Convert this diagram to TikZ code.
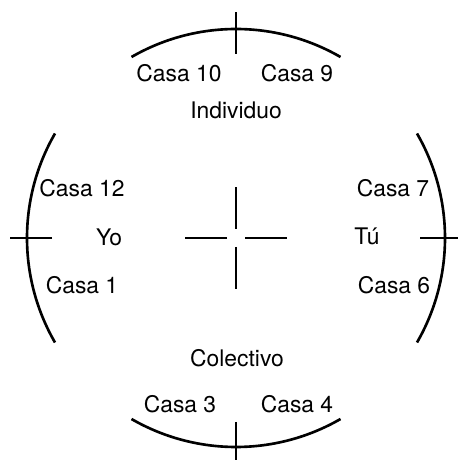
\documentclass[tikz,border=0pt]{standalone}
\usepackage{fontspec}
\setmainfont{TeX Gyre Heros}
\begin{document}
\begin{tikzpicture}[x=0.02cm, y=0.02cm, line width=1.5pt,
		lbl/.style={anchor=base, inner sep=0pt, font=\fontsize{13}{15}\selectfont}]
		\useasboundingbox (0,0) rectangle (457,460);
		\coordinate (c) at (236,222);

		% Outer arcs
		\draw ([shift={(60:209)}]c) arc[start angle=60, end angle=120, radius=209];
		\draw ([shift={(150:209)}]c) arc[start angle=150, end angle=210, radius=209];
		\draw ([shift={(240:209)}]c) arc[start angle=240, end angle=300, radius=209];
		\draw ([shift={(-30:209)}]c) arc[start angle=-30, end angle=30, radius=209];

		% Ticks on the arcs and the centre cross
		\foreach \a in {0,90,180,270} {
			\draw ([shift={(\a:184)}]c) -- ([shift={(\a:226)}]c);
			\draw ([shift={(\a:9)}]c) -- ([shift={(\a:51)}]c);
		}

		% Top
		\node[lbl] (casa10) at (179,378) {Casa 10};
		\node[lbl] (casa9) at (297,378) {Casa 9};
		\node[lbl] (indiv) at (236,341) {Individuo};

		% Left
		\node[lbl] (casa12) at (82,263) {Casa 12};
		\node[lbl] (yo) at (109,214) {Yo};
		\node[lbl] (casa1) at (82,166) {Casa 1};

		% Right
		\node[lbl] (casa7) at (393,263) {Casa 7};
		\node[lbl] (tu) at (367,215) {Tú};
		\node[lbl] (casa6) at (394,166) {Casa 6};

		% Bottom
		\node[lbl] (colect) at (237,93) {Colectivo};
		\node[lbl] (casa3) at (180,48) {Casa 3};
		\node[lbl] (casa4) at (297,48) {Casa 4};
	\end{tikzpicture}
\end{document}
